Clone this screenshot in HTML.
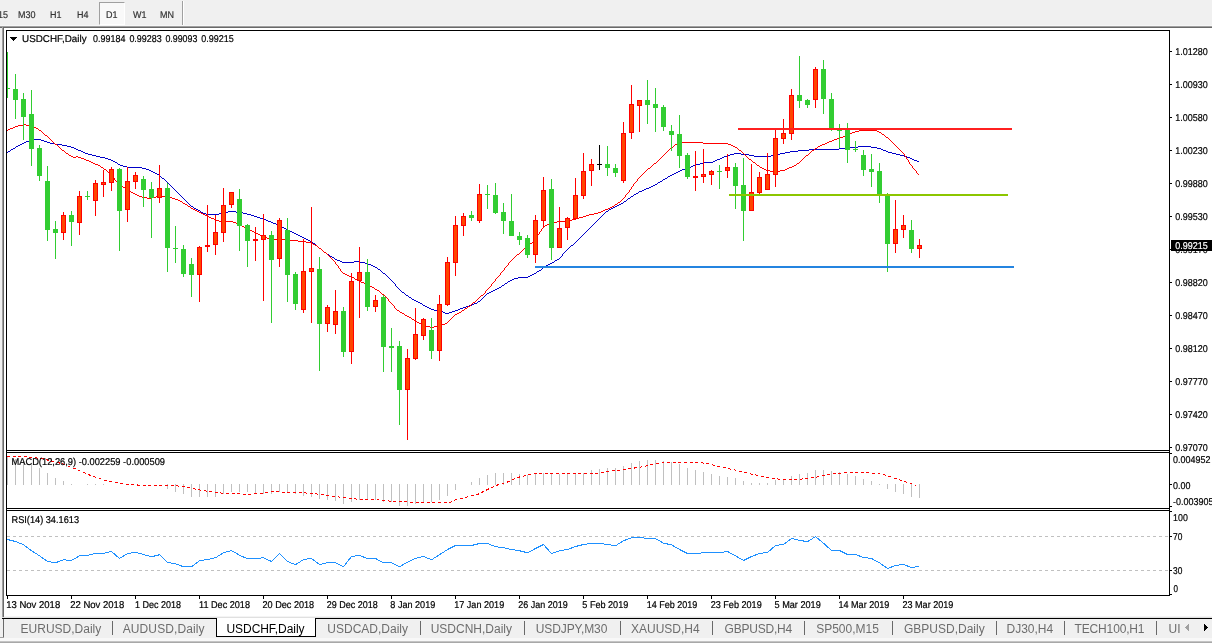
<!DOCTYPE html>
<html lang="en">
<head>
<meta charset="utf-8">
<title>USDCHF,Daily</title>
<style>
html,body{margin:0;padding:0;}
body{width:1212px;height:643px;overflow:hidden;background:#fff;position:relative;font-family:"Liberation Sans",sans-serif;}
.abs{position:absolute;}
#toolbar{left:0;top:0;width:1212px;height:25px;background:#f0f0f0;}
#toolbar span{position:absolute;top:10px;font-size:9.8px;line-height:11px;color:#333;-webkit-text-stroke:.2px #333;white-space:nowrap;transform:scaleX(.918);transform-origin:0 0;text-rendering:geometricPrecision;}
#d1btn{left:99px;top:2px;width:24px;height:21px;background:#f9f9f9;border-left:1px solid #a0a0a0;border-top:1px solid #a0a0a0;border-right:1px solid #fff;border-bottom:1px solid #fff;}
#tabs{left:0;top:619px;width:1212px;height:19px;background:#f0f0f0;}
#tabs span{position:absolute;top:3px;font-size:12px;line-height:14px;color:#6d6d6d;white-space:nowrap;}
#tabs i{position:absolute;top:2px;width:1px;height:14px;background:#696969;}
#acttab{left:216px;top:618px;width:98px;height:18px;background:#fff;border-left:1px solid #000;border-right:1px solid #000;border-bottom:1px solid #000;}
#acttab span{position:absolute;left:9.5px;letter-spacing:-.06px;top:4px;font-size:12px;line-height:14px;color:#000;white-space:nowrap;}
svg{position:absolute;left:0;top:0;}
svg text{font-family:"Liberation Sans",sans-serif;font-size:9.9px;fill:#000;stroke:#000;stroke-width:.2px;text-rendering:geometricPrecision;}
</style>
</head>
<body>

<div id="toolbar" class="abs">
<div id="d1btn" class="abs"></div>
<span style="left:-2px">15</span>
<span style="left:18.3px">M30</span>
<span style="left:49.5px">H1</span>
<span style="left:76.7px">H4</span>
<span style="left:105.5px">D1</span>
<span style="left:133.3px">W1</span>
<span style="left:159.7px">MN</span>
<div class="abs" style="left:182px;top:1px;width:1px;height:24px;background:#a0a0a0"></div>
<div class="abs" style="left:183px;top:1px;width:1px;height:24px;background:#fff"></div>
</div>
<div class="abs" style="left:0;top:25px;width:1212px;height:1px;background:#f6f6f6"></div>
<div class="abs" style="left:0;top:26px;width:1212px;height:1px;background:#a0a0a0"></div>
<div class="abs" style="left:0;top:27px;width:1212px;height:1px;background:#696969"></div>
<div class="abs" style="left:0;top:28px;width:2px;height:610px;background:#f0f0f0"></div>
<div class="abs" style="left:2px;top:27px;width:1px;height:590px;background:#a0a0a0"></div>
<div class="abs" style="left:3px;top:28px;width:1px;height:589px;background:#696969"></div>
<div class="abs" style="left:4px;top:616px;width:1208px;height:1px;background:#f4f4f4"></div>
<div class="abs" style="left:2px;top:617px;width:1210px;height:1px;background:#e0e0e0"></div>
<div class="abs" style="left:2px;top:618px;width:1210px;height:1px;background:#000"></div>
<div id="tabs" class="abs">
<div class="abs" style="left:3px;top:0;width:1px;height:18px;background:#696969"></div>
<div class="abs" style="left:0;top:18px;width:4px;height:1px;background:#a0a0a0"></div>
<span style="left:20.6px">EURUSD,Daily</span>
<span style="left:122.7px;letter-spacing:0.11px">AUDUSD,Daily</span>
<span style="left:327.3px">USDCAD,Daily</span>
<span style="left:430.7px">USDCNH,Daily</span>
<span style="left:535.7px;letter-spacing:-0.09px">USDJPY,M30</span>
<span style="left:631px">XAUUSD,H4</span>
<span style="left:724.5px;letter-spacing:-0.2px">GBPUSD,H4</span>
<span style="left:816.2px">SP500,M15</span>
<span style="left:904px">GBPUSD,Daily</span>
<span style="left:1006.5px">DJ30,H4</span>
<span style="left:1074.6px;letter-spacing:-0.16px">TECH100,H1</span>
<span style="left:1168.6px">UI</span>
<i style="left:112px"></i>
<i style="left:420px"></i>
<i style="left:524px"></i>
<i style="left:620px"></i>
<i style="left:712px"></i>
<i style="left:804px"></i>
<i style="left:892px"></i>
<i style="left:996px"></i>
<i style="left:1064px"></i>
<i style="left:1156px"></i>
<svg width="30" height="19" style="left:1182px;top:0" shape-rendering="crispEdges"><path d="M3 8h1v1h-1zM4 7h1v3h-1zM5 6h1v5h-1zM6 5h1v7h-1z" fill="#a0a0a0"/><path d="M22 5h1v7h-1zM23 6h1v5h-1zM24 7h1v3h-1zM25 8h1v1h-1z" fill="#000"/></svg>
</div>
<div id="acttab" class="abs"><span>USDCHF,Daily</span></div>
<div class="abs" style="left:0;top:638px;width:1212px;height:3px;background:#f8f8f8"></div>
<div class="abs" style="left:0;top:641px;width:1212px;height:1px;background:#c4c4c4"></div>
<div class="abs" style="left:0;top:642px;width:1212px;height:1px;background:#a8a8a8"></div>
<svg width="1212" height="643" viewBox="0 0 1212 643">
<g shape-rendering="crispEdges">
<path d="M7 536.5H1169M7 570.5H1169" stroke="#c0c0c0" stroke-width="1" stroke-dasharray="3 3" fill="none"/>
<rect x="7" y="456" width="1" height="29" fill="#c0c0c0"/>
<rect x="15" y="459" width="1" height="26" fill="#c0c0c0"/>
<rect x="23" y="461" width="1" height="24" fill="#c0c0c0"/>
<rect x="31" y="464" width="1" height="21" fill="#c0c0c0"/>
<rect x="39" y="468" width="1" height="17" fill="#c0c0c0"/>
<rect x="47" y="473" width="1" height="12" fill="#c0c0c0"/>
<rect x="55" y="478" width="1" height="7" fill="#c0c0c0"/>
<rect x="63" y="481" width="1" height="4" fill="#c0c0c0"/>
<rect x="71" y="484" width="1" height="1" fill="#c0c0c0"/>
<rect x="87" y="484" width="1" height="1" fill="#c0c0c0"/>
<rect x="95" y="484" width="1" height="1" fill="#c0c0c0"/>
<rect x="103" y="484" width="1" height="1" fill="#c0c0c0"/>
<rect x="167" y="484" width="1" height="5" fill="#c0c0c0"/>
<rect x="175" y="484" width="1" height="8" fill="#c0c0c0"/>
<rect x="183" y="484" width="1" height="10" fill="#c0c0c0"/>
<rect x="191" y="484" width="1" height="13" fill="#c0c0c0"/>
<rect x="199" y="484" width="1" height="13" fill="#c0c0c0"/>
<rect x="207" y="484" width="1" height="13" fill="#c0c0c0"/>
<rect x="215" y="484" width="1" height="13" fill="#c0c0c0"/>
<rect x="223" y="484" width="1" height="10" fill="#c0c0c0"/>
<rect x="231" y="484" width="1" height="8" fill="#c0c0c0"/>
<rect x="239" y="484" width="1" height="8" fill="#c0c0c0"/>
<rect x="247" y="484" width="1" height="8" fill="#c0c0c0"/>
<rect x="255" y="484" width="1" height="9" fill="#c0c0c0"/>
<rect x="263" y="484" width="1" height="10" fill="#c0c0c0"/>
<rect x="271" y="484" width="1" height="10" fill="#c0c0c0"/>
<rect x="279" y="484" width="1" height="8" fill="#c0c0c0"/>
<rect x="287" y="484" width="1" height="9" fill="#c0c0c0"/>
<rect x="295" y="484" width="1" height="10" fill="#c0c0c0"/>
<rect x="303" y="484" width="1" height="12" fill="#c0c0c0"/>
<rect x="311" y="484" width="1" height="13" fill="#c0c0c0"/>
<rect x="319" y="484" width="1" height="15" fill="#c0c0c0"/>
<rect x="327" y="484" width="1" height="16" fill="#c0c0c0"/>
<rect x="335" y="484" width="1" height="17" fill="#c0c0c0"/>
<rect x="343" y="484" width="1" height="20" fill="#c0c0c0"/>
<rect x="351" y="484" width="1" height="18" fill="#c0c0c0"/>
<rect x="359" y="484" width="1" height="16" fill="#c0c0c0"/>
<rect x="367" y="484" width="1" height="16" fill="#c0c0c0"/>
<rect x="375" y="484" width="1" height="16" fill="#c0c0c0"/>
<rect x="383" y="484" width="1" height="18" fill="#c0c0c0"/>
<rect x="391" y="484" width="1" height="18" fill="#c0c0c0"/>
<rect x="399" y="484" width="1" height="22" fill="#c0c0c0"/>
<rect x="407" y="484" width="1" height="22" fill="#c0c0c0"/>
<rect x="415" y="484" width="1" height="20" fill="#c0c0c0"/>
<rect x="423" y="484" width="1" height="18" fill="#c0c0c0"/>
<rect x="431" y="484" width="1" height="18" fill="#c0c0c0"/>
<rect x="439" y="484" width="1" height="16" fill="#c0c0c0"/>
<rect x="447" y="484" width="1" height="12" fill="#c0c0c0"/>
<rect x="455" y="484" width="1" height="6" fill="#c0c0c0"/>
<rect x="471" y="482" width="1" height="3" fill="#c0c0c0"/>
<rect x="479" y="478" width="1" height="7" fill="#c0c0c0"/>
<rect x="487" y="475" width="1" height="10" fill="#c0c0c0"/>
<rect x="495" y="473" width="1" height="12" fill="#c0c0c0"/>
<rect x="503" y="473" width="1" height="12" fill="#c0c0c0"/>
<rect x="511" y="473" width="1" height="12" fill="#c0c0c0"/>
<rect x="519" y="474" width="1" height="11" fill="#c0c0c0"/>
<rect x="527" y="475" width="1" height="10" fill="#c0c0c0"/>
<rect x="535" y="474" width="1" height="11" fill="#c0c0c0"/>
<rect x="543" y="473" width="1" height="12" fill="#c0c0c0"/>
<rect x="551" y="474" width="1" height="11" fill="#c0c0c0"/>
<rect x="559" y="474" width="1" height="11" fill="#c0c0c0"/>
<rect x="567" y="474" width="1" height="11" fill="#c0c0c0"/>
<rect x="575" y="474" width="1" height="11" fill="#c0c0c0"/>
<rect x="583" y="473" width="1" height="12" fill="#c0c0c0"/>
<rect x="591" y="470" width="1" height="15" fill="#c0c0c0"/>
<rect x="599" y="469" width="1" height="16" fill="#c0c0c0"/>
<rect x="607" y="468" width="1" height="17" fill="#c0c0c0"/>
<rect x="615" y="468" width="1" height="17" fill="#c0c0c0"/>
<rect x="623" y="466" width="1" height="19" fill="#c0c0c0"/>
<rect x="631" y="463" width="1" height="22" fill="#c0c0c0"/>
<rect x="639" y="461" width="1" height="24" fill="#c0c0c0"/>
<rect x="647" y="460" width="1" height="25" fill="#c0c0c0"/>
<rect x="655" y="460" width="1" height="25" fill="#c0c0c0"/>
<rect x="663" y="461" width="1" height="24" fill="#c0c0c0"/>
<rect x="671" y="462" width="1" height="23" fill="#c0c0c0"/>
<rect x="679" y="464" width="1" height="21" fill="#c0c0c0"/>
<rect x="687" y="468" width="1" height="17" fill="#c0c0c0"/>
<rect x="695" y="470" width="1" height="15" fill="#c0c0c0"/>
<rect x="703" y="472" width="1" height="13" fill="#c0c0c0"/>
<rect x="711" y="474" width="1" height="11" fill="#c0c0c0"/>
<rect x="719" y="476" width="1" height="9" fill="#c0c0c0"/>
<rect x="727" y="477" width="1" height="8" fill="#c0c0c0"/>
<rect x="735" y="478" width="1" height="7" fill="#c0c0c0"/>
<rect x="743" y="481" width="1" height="4" fill="#c0c0c0"/>
<rect x="751" y="483" width="1" height="2" fill="#c0c0c0"/>
<rect x="759" y="483" width="1" height="2" fill="#c0c0c0"/>
<rect x="767" y="483" width="1" height="2" fill="#c0c0c0"/>
<rect x="775" y="480" width="1" height="5" fill="#c0c0c0"/>
<rect x="783" y="480" width="1" height="5" fill="#c0c0c0"/>
<rect x="791" y="476" width="1" height="9" fill="#c0c0c0"/>
<rect x="799" y="474" width="1" height="11" fill="#c0c0c0"/>
<rect x="807" y="473" width="1" height="12" fill="#c0c0c0"/>
<rect x="815" y="470" width="1" height="15" fill="#c0c0c0"/>
<rect x="823" y="470" width="1" height="15" fill="#c0c0c0"/>
<rect x="831" y="471" width="1" height="14" fill="#c0c0c0"/>
<rect x="839" y="472" width="1" height="13" fill="#c0c0c0"/>
<rect x="847" y="474" width="1" height="11" fill="#c0c0c0"/>
<rect x="855" y="476" width="1" height="9" fill="#c0c0c0"/>
<rect x="863" y="479" width="1" height="6" fill="#c0c0c0"/>
<rect x="871" y="481" width="1" height="4" fill="#c0c0c0"/>
<rect x="879" y="484" width="1" height="1" fill="#c0c0c0"/>
<rect x="887" y="484" width="1" height="5" fill="#c0c0c0"/>
<rect x="895" y="484" width="1" height="8" fill="#c0c0c0"/>
<rect x="903" y="484" width="1" height="10" fill="#c0c0c0"/>
<rect x="911" y="484" width="1" height="13" fill="#c0c0c0"/>
<rect x="919" y="484" width="1" height="14" fill="#c0c0c0"/>
</g>
<polyline points="7,456.25 27.5,456.75 42.5,458.75 62.5,463.75 75,468.75 92.5,476.25 107.5,481.25 122.5,483.75 137.5,485 170,485 185,487 200,490 215,492.5 230,493.75 250,494.25 265,493 272.5,491.75 300,492.5 315,493.75 332.5,496.25 350,498.25 360,499.5 375,499.5 385,500.75 400,501.75 420,502.5 450,502.5 455,500 465,497.5 477.5,494.5 487.5,489.5 497.5,485 507.5,482 517.5,477.5 530,474.5 540,473.25 587.5,473.25 600,473 607.5,471.25 625,469.5 642.5,466.75 655,463.75 667.5,462.5 700,462.5 707.5,463.75 720,466.75 735,470 750,473.75 765,477 780,479.25 800,479.25 817.5,477 830,474.25 847.5,472.5 865,472.5 877.5,473.5 885,475 897.5,479.25 907.5,482.5 916,485.5" fill="none" stroke="#ff0000" stroke-width="1" stroke-dasharray="3 2.6" shape-rendering="crispEdges"/>
<polyline points="7.5,539.5 15.5,541.5 23.5,544.75 31.5,550.75 39.5,555.75 47.5,561.5 55.5,562.75 63.5,559.75 71.5,560.5 79.5,555.75 87.5,555.25 95.5,553.5 103.5,553.25 111.5,551.5 119.5,558.5 127.5,553.5 135.5,552.25 143.5,554.5 151.5,556.75 159.5,554.75 167.5,562.5 175.5,563.75 183.5,566.75 191.5,566.75 199.5,560.75 207.5,559.5 215.5,557.75 223.5,552.75 231.5,550.5 239.5,555.25 247.5,558.75 255.5,558.75 263.5,557.75 271.5,561.5 279.5,553.25 287.5,561.5 295.5,564.75 303.5,559.5 311.5,558.5 319.5,564.5 327.5,562.75 335.5,562.75 343.5,566.75 351.5,556.5 359.5,555.5 367.5,558.5 375.5,558.5 383.5,562.75 391.5,562.75 399.5,566.75 407.5,562.25 415.5,558.25 423.5,556.5 431.5,559.75 439.5,554.75 447.5,549.5 455.5,545.5 463.5,545.5 471.5,545.5 479.5,543.5 487.5,543.5 495.5,546.75 503.5,547.75 511.5,549.5 519.5,550.75 527.5,552.75 535.5,548.5 543.5,544.5 551.5,553.5 559.5,550.75 567.5,549.5 575.5,546.5 583.5,544.5 591.5,543.5 599.5,543.5 607.5,544.5 615.5,545.75 623.5,540.75 631.5,537.75 639.5,537.25 647.5,538.5 655.5,538.5 663.5,543.25 671.5,544.75 679.5,549.5 687.5,553.5 695.5,553.5 703.5,552.75 711.5,552.75 719.5,552.75 727.5,551.5 735.5,555.75 743.5,560.5 751.5,556.5 759.5,553.5 767.5,552.5 775.5,545.5 783.5,544.5 791.5,538.5 799.5,540.25 807.5,541.75 815.5,536.5 823.5,543.25 831.5,550.5 839.5,550.5 847.5,554.5 855.5,554.5 863.5,557.5 871.5,558.5 879.5,562.75 887.5,568.5 895.5,565.5 903.5,564.5 911.5,567.5 919.5,566.5" fill="none" stroke="#1e90ff" stroke-width="1" shape-rendering="crispEdges"/>
<path d="M32 139.5h9M29 140.5h3M41 140.5h3M26 141.5h3M44 141.5h3M24 142.5h2M47 142.5h3M22 143.5h2M50 143.5h5M20 144.5h2M55 144.5h7M18 145.5h2M62 145.5h5M16 146.5h2M67 146.5h4M858 146.5h13M15 147.5h1M71 147.5h3M850 147.5h8M871 147.5h6M13 148.5h2M74 148.5h2M839 148.5h11M877 148.5h4M11 149.5h2M76 149.5h2M809 149.5h30M881 149.5h2M10 150.5h1M78 150.5h3M798 150.5h11M883 150.5h3M8 151.5h2M81 151.5h2M790 151.5h8M886 151.5h2M7 152.5h1M83 152.5h2M785 152.5h5M888 152.5h4M85 153.5h3M734 153.5h7M780 153.5h5M892 153.5h4M88 154.5h4M730 154.5h4M741 154.5h8M776 154.5h4M896 154.5h4M92 155.5h4M727 155.5h3M749 155.5h5M771 155.5h5M900 155.5h4M96 156.5h4M724 156.5h3M754 156.5h17M904 156.5h3M100 157.5h5M722 157.5h2M907 157.5h3M105 158.5h3M720 158.5h2M910 158.5h2M108 159.5h3M717 159.5h3M912 159.5h2M111 160.5h2M715 160.5h2M914 160.5h3M113 161.5h2M713 161.5h2M917 161.5h2M115 162.5h2M703 162.5h10M117 163.5h1M700 163.5h3M118 164.5h2M696 164.5h4M120 165.5h3M693 165.5h3M123 166.5h4M691 166.5h2M127 167.5h15M688 167.5h3M142 168.5h4M685 168.5h3M146 169.5h3M682 169.5h3M149 170.5h2M680 170.5h2M151 171.5h2M678 171.5h2M153 172.5h2M676 172.5h2M155 173.5h2M674 173.5h2M157 174.5h2M672 174.5h2M159 175.5h1M670 175.5h2M160 176.5h1M668 176.5h2M161 177.5h1M667 177.5h1M162 178.5h2M665 178.5h2M164 179.5h1M663 179.5h2M165 180.5h1M662 180.5h1M166 181.5h1M660 181.5h2M167 182.5h1M658 182.5h2M168 183.5h1M657 183.5h1M169 184.5h1M655 184.5h2M170 185.5h1M653 185.5h2M171 186.5h1M651 186.5h2M172 187.5h1M649 187.5h2M173 188.5h1M646 188.5h3M174 189.5h1M644 189.5h2M175 190.5h1M642 190.5h2M176 191.5h1M639 191.5h3M177 192.5h1M638 192.5h1M178 193.5h1M636 193.5h2M179 194.5h1M634 194.5h2M180 195.5h1M633 195.5h1M181 196.5h1M631 196.5h2M182 197.5h1M630 197.5h1M183 198.5h1M628 198.5h2M184 199.5h1M627 199.5h1M185 200.5h1M626 200.5h1M186 201.5h1M624 201.5h2M187 202.5h1M623 202.5h1M188 203.5h1M621 203.5h2M189 204.5h1M619 204.5h2M190 205.5h1M617 205.5h2M191 206.5h2M615 206.5h2M193 207.5h1M613 207.5h2M194 208.5h2M611 208.5h2M196 209.5h2M609 209.5h2M198 210.5h2M608 210.5h1M200 211.5h1M228 211.5h8M606 211.5h2M201 212.5h2M223 212.5h5M236 212.5h7M605 212.5h1M203 213.5h3M219 213.5h4M243 213.5h4M604 213.5h1M206 214.5h13M247 214.5h4M603 214.5h1M251 215.5h3M602 215.5h1M254 216.5h3M601 216.5h1M257 217.5h3M600 217.5h1M260 218.5h3M599 218.5h1M263 219.5h3M598 219.5h1M266 220.5h2M597 220.5h1M268 221.5h3M596 221.5h1M271 222.5h2M595 222.5h1M273 223.5h3M594 223.5h1M276 224.5h2M593 224.5h1M278 225.5h2M592 225.5h1M280 226.5h2M591 226.5h1M282 227.5h2M590 227.5h1M284 228.5h2M589 228.5h1M286 229.5h2M588 229.5h1M288 230.5h2M587 230.5h1M290 231.5h2M586 231.5h1M292 232.5h2M585 232.5h1M294 233.5h2M584 233.5h1M296 234.5h2M583 234.5h1M298 235.5h2M582 235.5h1M300 236.5h2M581 236.5h1M302 237.5h2M580 237.5h1M304 238.5h2M579 238.5h1M306 239.5h2M578 239.5h1M308 240.5h2M577 240.5h1M310 241.5h2M576 241.5h1M312 242.5h1M575 242.5h1M313 243.5h2M574 243.5h1M315 244.5h1M573 244.5h1M316 245.5h1M571 245.5h2M317 246.5h1M570 246.5h1M318 247.5h1M569 247.5h1M319 248.5h2M568 248.5h1M321 249.5h1M567 249.5h1M322 250.5h1M566 250.5h1M323 251.5h1M565 251.5h1M324 252.5h2M564 252.5h1M326 253.5h1M563 253.5h1M327 254.5h2M562 254.5h1M329 255.5h1M562 255.5h1M330 256.5h2M561 256.5h1M332 257.5h2M560 257.5h1M334 258.5h1M559 258.5h1M335 259.5h2M557 259.5h2M337 260.5h3M555 260.5h2M340 261.5h2M354 261.5h6M554 261.5h1M342 262.5h12M360 262.5h5M552 262.5h2M365 263.5h3M550 263.5h2M368 264.5h3M548 264.5h2M371 265.5h2M546 265.5h2M373 266.5h2M545 266.5h1M375 267.5h2M543 267.5h2M377 268.5h1M542 268.5h1M378 269.5h2M541 269.5h1M380 270.5h1M539 270.5h2M381 271.5h1M537 271.5h2M382 272.5h1M536 272.5h1M383 273.5h2M534 273.5h2M385 274.5h1M532 274.5h2M386 275.5h1M530 275.5h2M387 276.5h1M528 276.5h2M388 277.5h1M518 277.5h10M389 278.5h1M514 278.5h4M390 279.5h1M512 279.5h2M391 280.5h1M510 280.5h2M392 281.5h1M508 281.5h2M393 282.5h1M507 282.5h1M394 283.5h1M505 283.5h2M395 284.5h1M504 284.5h1M395 285.5h1M502 285.5h2M396 286.5h1M501 286.5h1M397 287.5h1M499 287.5h2M398 288.5h1M497 288.5h2M399 289.5h1M495 289.5h2M400 290.5h1M493 290.5h2M401 291.5h1M491 291.5h2M402 292.5h2M489 292.5h2M404 293.5h1M487 293.5h2M405 294.5h1M486 294.5h1M406 295.5h2M485 295.5h1M408 296.5h1M484 296.5h1M409 297.5h2M483 297.5h1M411 298.5h1M482 298.5h1M412 299.5h2M481 299.5h1M414 300.5h2M480 300.5h1M416 301.5h2M478 301.5h2M418 302.5h2M477 302.5h1M420 303.5h2M474 303.5h3M422 304.5h1M472 304.5h2M423 305.5h2M469 305.5h3M425 306.5h2M466 306.5h3M427 307.5h2M463 307.5h3M429 308.5h2M460 308.5h3M431 309.5h3M458 309.5h2M434 310.5h7M455 310.5h3M441 311.5h2M452 311.5h3M443 312.5h2M449 312.5h3M445 313.5h4" fill="none" stroke="#0000c8" stroke-width="1" shape-rendering="crispEdges"/>
<path d="M23 124.5h3M18 125.5h5M26 125.5h5M15 126.5h3M31 126.5h3M13 127.5h2M34 127.5h2M10 128.5h3M36 128.5h2M8 129.5h2M38 129.5h1M7 130.5h1M39 130.5h2M859 130.5h18M41 131.5h1M855 131.5h4M877 131.5h2M42 132.5h1M852 132.5h3M879 132.5h2M43 133.5h1M850 133.5h2M881 133.5h1M44 134.5h1M847 134.5h3M882 134.5h2M45 135.5h2M845 135.5h2M884 135.5h1M47 136.5h1M843 136.5h2M885 136.5h1M48 137.5h1M840 137.5h3M886 137.5h2M49 138.5h1M837 138.5h3M888 138.5h1M50 139.5h1M834 139.5h3M889 139.5h1M51 140.5h1M832 140.5h2M890 140.5h1M52 141.5h1M829 141.5h3M891 141.5h1M53 142.5h1M679 142.5h24M827 142.5h2M892 142.5h1M54 143.5h1M677 143.5h2M703 143.5h25M825 143.5h2M893 143.5h1M55 144.5h2M675 144.5h2M728 144.5h3M822 144.5h3M894 144.5h1M57 145.5h1M674 145.5h1M731 145.5h2M820 145.5h2M895 145.5h1M58 146.5h1M673 146.5h1M733 146.5h2M818 146.5h2M896 146.5h1M59 147.5h1M671 147.5h2M735 147.5h2M817 147.5h1M897 147.5h1M60 148.5h1M670 148.5h1M737 148.5h1M815 148.5h2M898 148.5h1M61 149.5h1M669 149.5h1M738 149.5h1M814 149.5h1M899 149.5h1M62 150.5h2M668 150.5h1M739 150.5h2M812 150.5h2M900 150.5h1M64 151.5h1M667 151.5h1M741 151.5h1M811 151.5h1M901 151.5h1M65 152.5h1M666 152.5h1M742 152.5h1M810 152.5h1M902 152.5h1M66 153.5h2M665 153.5h1M743 153.5h1M809 153.5h1M903 153.5h1M68 154.5h1M664 154.5h1M744 154.5h1M808 154.5h1M904 154.5h1M69 155.5h2M663 155.5h1M745 155.5h1M806 155.5h2M904 155.5h1M71 156.5h2M76 156.5h2M662 156.5h1M746 156.5h1M805 156.5h1M905 156.5h1M73 157.5h3M78 157.5h3M661 157.5h1M747 157.5h1M804 157.5h1M906 157.5h1M81 158.5h3M660 158.5h1M748 158.5h1M803 158.5h1M906 158.5h1M84 159.5h2M659 159.5h1M749 159.5h2M802 159.5h1M907 159.5h1M86 160.5h3M658 160.5h1M751 160.5h1M801 160.5h1M908 160.5h1M89 161.5h2M657 161.5h1M752 161.5h1M800 161.5h1M908 161.5h1M91 162.5h2M656 162.5h1M753 162.5h2M799 162.5h1M909 162.5h1M93 163.5h2M654 163.5h2M755 163.5h1M797 163.5h2M909 163.5h1M95 164.5h3M653 164.5h1M756 164.5h1M796 164.5h1M910 164.5h1M98 165.5h2M652 165.5h1M757 165.5h2M794 165.5h2M911 165.5h1M100 166.5h1M651 166.5h1M759 166.5h1M792 166.5h2M912 166.5h1M101 167.5h2M650 167.5h1M760 167.5h2M789 167.5h3M912 167.5h1M103 168.5h1M648 168.5h2M762 168.5h2M787 168.5h2M913 168.5h1M104 169.5h2M647 169.5h1M764 169.5h2M785 169.5h2M914 169.5h1M106 170.5h1M646 170.5h1M766 170.5h4M780 170.5h5M915 170.5h1M107 171.5h1M645 171.5h1M770 171.5h10M916 171.5h1M108 172.5h1M644 172.5h1M916 172.5h1M109 173.5h1M643 173.5h1M917 173.5h1M110 174.5h1M642 174.5h1M918 174.5h1M111 175.5h1M641 175.5h1M112 176.5h1M640 176.5h1M113 177.5h1M639 177.5h1M114 178.5h1M638 178.5h1M114 179.5h1M637 179.5h1M115 180.5h1M637 180.5h1M116 181.5h1M636 181.5h1M117 182.5h1M635 182.5h1M118 183.5h1M634 183.5h1M119 184.5h2M633 184.5h1M121 185.5h1M633 185.5h1M122 186.5h1M632 186.5h1M123 187.5h2M631 187.5h1M125 188.5h1M631 188.5h1M126 189.5h2M630 189.5h1M128 190.5h2M629 190.5h1M130 191.5h1M629 191.5h1M131 192.5h2M628 192.5h1M133 193.5h2M627 193.5h1M135 194.5h2M626 194.5h1M137 195.5h2M625 195.5h1M139 196.5h3M156 196.5h12M625 196.5h1M142 197.5h5M152 197.5h4M168 197.5h4M624 197.5h1M147 198.5h5M172 198.5h3M623 198.5h1M175 199.5h3M622 199.5h1M178 200.5h2M621 200.5h1M180 201.5h2M620 201.5h1M182 202.5h1M618 202.5h2M183 203.5h2M617 203.5h1M185 204.5h2M615 204.5h2M187 205.5h1M614 205.5h1M188 206.5h2M612 206.5h2M190 207.5h1M610 207.5h2M191 208.5h2M608 208.5h2M193 209.5h2M605 209.5h3M195 210.5h2M603 210.5h2M197 211.5h2M601 211.5h2M199 212.5h2M598 212.5h3M201 213.5h2M594 213.5h4M203 214.5h2M589 214.5h5M205 215.5h2M586 215.5h3M207 216.5h2M583 216.5h3M209 217.5h2M579 217.5h4M211 218.5h3M576 218.5h3M214 219.5h2M572 219.5h4M216 220.5h3M567 220.5h5M219 221.5h14M557 221.5h10M233 222.5h3M552 222.5h5M236 223.5h2M549 223.5h3M238 224.5h2M547 224.5h2M240 225.5h2M545 225.5h2M242 226.5h2M544 226.5h1M244 227.5h2M543 227.5h1M246 228.5h2M542 228.5h1M248 229.5h2M541 229.5h1M250 230.5h2M541 230.5h1M252 231.5h2M540 231.5h1M254 232.5h2M539 232.5h1M256 233.5h2M539 233.5h1M258 234.5h2M538 234.5h1M260 235.5h2M537 235.5h1M262 236.5h3M537 236.5h1M265 237.5h2M536 237.5h1M267 238.5h4M535 238.5h1M271 239.5h19M534 239.5h1M290 240.5h8M533 240.5h1M298 241.5h8M533 241.5h1M306 242.5h5M532 242.5h1M311 243.5h2M530 243.5h2M313 244.5h2M529 244.5h1M315 245.5h2M528 245.5h1M317 246.5h1M527 246.5h1M318 247.5h1M526 247.5h1M319 248.5h2M524 248.5h2M321 249.5h1M523 249.5h1M322 250.5h1M522 250.5h1M323 251.5h1M521 251.5h1M324 252.5h2M520 252.5h1M326 253.5h1M519 253.5h1M327 254.5h1M517 254.5h2M328 255.5h1M516 255.5h1M329 256.5h1M515 256.5h1M330 257.5h1M514 257.5h1M331 258.5h1M513 258.5h1M332 259.5h1M512 259.5h1M333 260.5h1M511 260.5h1M334 261.5h1M510 261.5h1M335 262.5h1M509 262.5h1M335 263.5h1M508 263.5h1M336 264.5h1M508 264.5h1M337 265.5h1M507 265.5h1M338 266.5h1M506 266.5h1M338 267.5h1M505 267.5h1M339 268.5h1M504 268.5h1M340 269.5h1M504 269.5h1M340 270.5h1M503 270.5h1M341 271.5h1M502 271.5h1M342 272.5h1M501 272.5h1M343 273.5h2M500 273.5h1M345 274.5h2M500 274.5h1M347 275.5h2M499 275.5h1M349 276.5h2M498 276.5h1M351 277.5h3M497 277.5h1M354 278.5h1M496 278.5h1M355 279.5h2M495 279.5h1M357 280.5h2M495 280.5h1M359 281.5h2M494 281.5h1M361 282.5h3M493 282.5h1M364 283.5h2M492 283.5h1M366 284.5h2M491 284.5h1M368 285.5h2M491 285.5h1M370 286.5h2M490 286.5h1M372 287.5h2M489 287.5h1M374 288.5h1M488 288.5h1M375 289.5h2M487 289.5h1M377 290.5h2M486 290.5h1M379 291.5h1M485 291.5h1M380 292.5h1M485 292.5h1M381 293.5h1M484 293.5h1M382 294.5h2M483 294.5h1M384 295.5h1M481 295.5h2M385 296.5h1M480 296.5h1M386 297.5h1M479 297.5h1M387 298.5h1M478 298.5h1M388 299.5h1M477 299.5h1M388 300.5h1M476 300.5h1M389 301.5h1M475 301.5h1M390 302.5h1M473 302.5h2M391 303.5h1M472 303.5h1M392 304.5h1M471 304.5h1M393 305.5h1M470 305.5h1M394 306.5h1M468 306.5h2M394 307.5h1M467 307.5h1M395 308.5h1M465 308.5h2M396 309.5h1M464 309.5h1M397 310.5h2M462 310.5h2M399 311.5h1M461 311.5h1M400 312.5h2M459 312.5h2M402 313.5h2M457 313.5h2M404 314.5h1M455 314.5h2M405 315.5h2M454 315.5h1M407 316.5h2M453 316.5h1M409 317.5h2M452 317.5h1M411 318.5h1M451 318.5h1M412 319.5h2M450 319.5h1M414 320.5h1M449 320.5h1M415 321.5h2M448 321.5h1M417 322.5h2M447 322.5h1M419 323.5h2M445 323.5h2M421 324.5h2M442 324.5h3M423 325.5h3M438 325.5h4M426 326.5h4M434 326.5h4M430 327.5h4" fill="none" stroke="#ff0000" stroke-width="1" shape-rendering="crispEdges"/>
<g shape-rendering="crispEdges">
<rect x="7" y="52" width="1" height="46" fill="#32cd32"/>
<rect x="7" y="88" width="3" height="1" fill="#32cd32"/>
<rect x="15" y="74" width="1" height="45" fill="#32cd32"/>
<rect x="13" y="89" width="5" height="11" fill="#32cd32"/>
<rect x="23" y="93" width="1" height="47" fill="#32cd32"/>
<rect x="21" y="99" width="5" height="18" fill="#32cd32"/>
<rect x="31" y="90" width="1" height="76" fill="#32cd32"/>
<rect x="29" y="114" width="5" height="35" fill="#32cd32"/>
<rect x="39" y="145" width="1" height="36" fill="#32cd32"/>
<rect x="37" y="148" width="5" height="28" fill="#32cd32"/>
<rect x="47" y="166" width="1" height="75" fill="#32cd32"/>
<rect x="45" y="181" width="5" height="49" fill="#32cd32"/>
<rect x="55" y="221" width="1" height="38" fill="#32cd32"/>
<rect x="53" y="229" width="5" height="4" fill="#32cd32"/>
<rect x="63" y="212" width="1" height="28" fill="#ff0000"/>
<rect x="61" y="215" width="5" height="18" fill="#ff0000"/>
<rect x="62" y="216" width="3" height="16" fill="#ff4500"/>
<rect x="71" y="211" width="1" height="35" fill="#32cd32"/>
<rect x="69" y="215" width="5" height="7" fill="#32cd32"/>
<rect x="79" y="191" width="1" height="44" fill="#ff0000"/>
<rect x="77" y="196" width="5" height="27" fill="#ff0000"/>
<rect x="78" y="197" width="3" height="25" fill="#ff4500"/>
<rect x="87" y="191" width="1" height="9" fill="#32cd32"/>
<rect x="85" y="196" width="5" height="1" fill="#32cd32"/>
<rect x="95" y="180" width="1" height="36" fill="#ff0000"/>
<rect x="93" y="183" width="5" height="18" fill="#ff0000"/>
<rect x="94" y="184" width="3" height="16" fill="#ff4500"/>
<rect x="103" y="170" width="1" height="27" fill="#ff0000"/>
<rect x="101" y="182" width="5" height="3" fill="#ff0000"/>
<rect x="102" y="183" width="3" height="1" fill="#ff4500"/>
<rect x="111" y="167" width="1" height="24" fill="#ff0000"/>
<rect x="109" y="169" width="5" height="14" fill="#ff0000"/>
<rect x="110" y="170" width="3" height="12" fill="#ff4500"/>
<rect x="119" y="168" width="1" height="83" fill="#32cd32"/>
<rect x="117" y="169" width="5" height="42" fill="#32cd32"/>
<rect x="127" y="167" width="1" height="55" fill="#ff0000"/>
<rect x="125" y="181" width="5" height="29" fill="#ff0000"/>
<rect x="126" y="182" width="3" height="27" fill="#ff4500"/>
<rect x="135" y="172" width="1" height="17" fill="#ff0000"/>
<rect x="133" y="175" width="5" height="7" fill="#ff0000"/>
<rect x="134" y="176" width="3" height="5" fill="#ff4500"/>
<rect x="143" y="176" width="1" height="31" fill="#32cd32"/>
<rect x="141" y="179" width="5" height="11" fill="#32cd32"/>
<rect x="151" y="182" width="1" height="56" fill="#32cd32"/>
<rect x="149" y="189" width="5" height="9" fill="#32cd32"/>
<rect x="159" y="165" width="1" height="38" fill="#ff0000"/>
<rect x="157" y="188" width="5" height="10" fill="#ff0000"/>
<rect x="158" y="189" width="3" height="8" fill="#ff4500"/>
<rect x="167" y="183" width="1" height="89" fill="#32cd32"/>
<rect x="165" y="188" width="5" height="60" fill="#32cd32"/>
<rect x="175" y="226" width="1" height="37" fill="#32cd32"/>
<rect x="173" y="248" width="5" height="1" fill="#32cd32"/>
<rect x="183" y="245" width="1" height="32" fill="#32cd32"/>
<rect x="181" y="249" width="5" height="25" fill="#32cd32"/>
<rect x="191" y="258" width="1" height="39" fill="#32cd32"/>
<rect x="189" y="264" width="5" height="11" fill="#32cd32"/>
<rect x="199" y="246" width="1" height="56" fill="#ff0000"/>
<rect x="197" y="247" width="5" height="28" fill="#ff0000"/>
<rect x="198" y="248" width="3" height="26" fill="#ff4500"/>
<rect x="207" y="205" width="1" height="47" fill="#ff0000"/>
<rect x="205" y="245" width="5" height="2" fill="#ff0000"/>
<rect x="215" y="215" width="1" height="40" fill="#ff0000"/>
<rect x="213" y="232" width="5" height="13" fill="#ff0000"/>
<rect x="214" y="233" width="3" height="11" fill="#ff4500"/>
<rect x="223" y="188" width="1" height="54" fill="#ff0000"/>
<rect x="221" y="205" width="5" height="28" fill="#ff0000"/>
<rect x="222" y="206" width="3" height="26" fill="#ff4500"/>
<rect x="231" y="192" width="1" height="16" fill="#ff0000"/>
<rect x="229" y="192" width="5" height="13" fill="#ff0000"/>
<rect x="230" y="193" width="3" height="11" fill="#ff4500"/>
<rect x="239" y="189" width="1" height="62" fill="#32cd32"/>
<rect x="237" y="199" width="5" height="27" fill="#32cd32"/>
<rect x="247" y="224" width="1" height="43" fill="#32cd32"/>
<rect x="245" y="225" width="5" height="16" fill="#32cd32"/>
<rect x="255" y="227" width="1" height="34" fill="#ff0000"/>
<rect x="253" y="239" width="5" height="2" fill="#ff0000"/>
<rect x="263" y="214" width="1" height="87" fill="#ff0000"/>
<rect x="261" y="235" width="5" height="5" fill="#ff0000"/>
<rect x="262" y="236" width="3" height="3" fill="#ff4500"/>
<rect x="271" y="231" width="1" height="92" fill="#32cd32"/>
<rect x="269" y="235" width="5" height="25" fill="#32cd32"/>
<rect x="279" y="218" width="1" height="49" fill="#ff0000"/>
<rect x="277" y="220" width="5" height="39" fill="#ff0000"/>
<rect x="278" y="221" width="3" height="37" fill="#ff4500"/>
<rect x="287" y="218" width="1" height="84" fill="#32cd32"/>
<rect x="285" y="230" width="5" height="45" fill="#32cd32"/>
<rect x="295" y="272" width="1" height="38" fill="#32cd32"/>
<rect x="293" y="274" width="5" height="30" fill="#32cd32"/>
<rect x="303" y="239" width="1" height="74" fill="#ff0000"/>
<rect x="301" y="271" width="5" height="39" fill="#ff0000"/>
<rect x="302" y="272" width="3" height="37" fill="#ff4500"/>
<rect x="311" y="207" width="1" height="116" fill="#ff0000"/>
<rect x="309" y="268" width="5" height="4" fill="#ff0000"/>
<rect x="310" y="269" width="3" height="2" fill="#ff4500"/>
<rect x="319" y="257" width="1" height="114" fill="#32cd32"/>
<rect x="317" y="269" width="5" height="55" fill="#32cd32"/>
<rect x="327" y="305" width="1" height="27" fill="#ff0000"/>
<rect x="325" y="307" width="5" height="17" fill="#ff0000"/>
<rect x="326" y="308" width="3" height="15" fill="#ff4500"/>
<rect x="335" y="290" width="1" height="44" fill="#ff0000"/>
<rect x="333" y="311" width="5" height="14" fill="#ff0000"/>
<rect x="334" y="312" width="3" height="12" fill="#ff4500"/>
<rect x="343" y="307" width="1" height="50" fill="#32cd32"/>
<rect x="341" y="311" width="5" height="41" fill="#32cd32"/>
<rect x="351" y="273" width="1" height="91" fill="#ff0000"/>
<rect x="349" y="281" width="5" height="71" fill="#ff0000"/>
<rect x="350" y="282" width="3" height="69" fill="#ff4500"/>
<rect x="359" y="247" width="1" height="71" fill="#ff0000"/>
<rect x="357" y="272" width="5" height="9" fill="#ff0000"/>
<rect x="358" y="273" width="3" height="7" fill="#ff4500"/>
<rect x="367" y="259" width="1" height="52" fill="#32cd32"/>
<rect x="365" y="272" width="5" height="35" fill="#32cd32"/>
<rect x="375" y="295" width="1" height="17" fill="#ff0000"/>
<rect x="373" y="300" width="5" height="7" fill="#ff0000"/>
<rect x="374" y="301" width="3" height="5" fill="#ff4500"/>
<rect x="383" y="295" width="1" height="77" fill="#32cd32"/>
<rect x="381" y="297" width="5" height="50" fill="#32cd32"/>
<rect x="391" y="328" width="1" height="44" fill="#32cd32"/>
<rect x="389" y="346" width="5" height="2" fill="#32cd32"/>
<rect x="399" y="341" width="1" height="84" fill="#32cd32"/>
<rect x="397" y="346" width="5" height="44" fill="#32cd32"/>
<rect x="407" y="349" width="1" height="91" fill="#ff0000"/>
<rect x="405" y="358" width="5" height="32" fill="#ff0000"/>
<rect x="406" y="359" width="3" height="30" fill="#ff4500"/>
<rect x="415" y="308" width="1" height="52" fill="#ff0000"/>
<rect x="413" y="334" width="5" height="25" fill="#ff0000"/>
<rect x="414" y="335" width="3" height="23" fill="#ff4500"/>
<rect x="423" y="318" width="1" height="22" fill="#ff0000"/>
<rect x="421" y="319" width="5" height="17" fill="#ff0000"/>
<rect x="422" y="320" width="3" height="15" fill="#ff4500"/>
<rect x="431" y="318" width="1" height="41" fill="#32cd32"/>
<rect x="429" y="330" width="5" height="21" fill="#32cd32"/>
<rect x="439" y="295" width="1" height="66" fill="#ff0000"/>
<rect x="437" y="304" width="5" height="47" fill="#ff0000"/>
<rect x="438" y="305" width="3" height="45" fill="#ff4500"/>
<rect x="447" y="257" width="1" height="49" fill="#ff0000"/>
<rect x="445" y="262" width="5" height="43" fill="#ff0000"/>
<rect x="446" y="263" width="3" height="41" fill="#ff4500"/>
<rect x="455" y="216" width="1" height="60" fill="#ff0000"/>
<rect x="453" y="225" width="5" height="38" fill="#ff0000"/>
<rect x="454" y="226" width="3" height="36" fill="#ff4500"/>
<rect x="463" y="213" width="1" height="23" fill="#ff0000"/>
<rect x="461" y="216" width="5" height="10" fill="#ff0000"/>
<rect x="462" y="217" width="3" height="8" fill="#ff4500"/>
<rect x="471" y="211" width="1" height="10" fill="#32cd32"/>
<rect x="469" y="215" width="5" height="3" fill="#32cd32"/>
<rect x="479" y="184" width="1" height="39" fill="#ff0000"/>
<rect x="477" y="194" width="5" height="27" fill="#ff0000"/>
<rect x="478" y="195" width="3" height="25" fill="#ff4500"/>
<rect x="487" y="185" width="1" height="24" fill="#32cd32"/>
<rect x="485" y="194" width="5" height="1" fill="#32cd32"/>
<rect x="495" y="183" width="1" height="31" fill="#32cd32"/>
<rect x="493" y="195" width="5" height="18" fill="#32cd32"/>
<rect x="503" y="203" width="1" height="31" fill="#32cd32"/>
<rect x="501" y="212" width="5" height="9" fill="#32cd32"/>
<rect x="511" y="194" width="1" height="42" fill="#32cd32"/>
<rect x="509" y="221" width="5" height="15" fill="#32cd32"/>
<rect x="519" y="232" width="1" height="13" fill="#32cd32"/>
<rect x="517" y="236" width="5" height="4" fill="#32cd32"/>
<rect x="527" y="235" width="1" height="23" fill="#32cd32"/>
<rect x="525" y="238" width="5" height="17" fill="#32cd32"/>
<rect x="535" y="215" width="1" height="48" fill="#ff0000"/>
<rect x="533" y="220" width="5" height="35" fill="#ff0000"/>
<rect x="534" y="221" width="3" height="33" fill="#ff4500"/>
<rect x="543" y="177" width="1" height="50" fill="#ff0000"/>
<rect x="541" y="190" width="5" height="31" fill="#ff0000"/>
<rect x="542" y="191" width="3" height="29" fill="#ff4500"/>
<rect x="551" y="179" width="1" height="81" fill="#32cd32"/>
<rect x="549" y="189" width="5" height="59" fill="#32cd32"/>
<rect x="559" y="207" width="1" height="41" fill="#ff0000"/>
<rect x="557" y="228" width="5" height="20" fill="#ff0000"/>
<rect x="558" y="229" width="3" height="18" fill="#ff4500"/>
<rect x="567" y="217" width="1" height="23" fill="#ff0000"/>
<rect x="565" y="218" width="5" height="10" fill="#ff0000"/>
<rect x="566" y="219" width="3" height="8" fill="#ff4500"/>
<rect x="575" y="178" width="1" height="41" fill="#ff0000"/>
<rect x="573" y="195" width="5" height="24" fill="#ff0000"/>
<rect x="574" y="196" width="3" height="22" fill="#ff4500"/>
<rect x="583" y="153" width="1" height="46" fill="#ff0000"/>
<rect x="581" y="171" width="5" height="25" fill="#ff0000"/>
<rect x="582" y="172" width="3" height="23" fill="#ff4500"/>
<rect x="591" y="159" width="1" height="27" fill="#ff0000"/>
<rect x="589" y="164" width="5" height="7" fill="#ff0000"/>
<rect x="590" y="165" width="3" height="5" fill="#ff4500"/>
<rect x="599" y="145" width="1" height="25" fill="#000"/>
<rect x="597" y="164" width="5" height="1" fill="#000"/>
<rect x="607" y="146" width="1" height="30" fill="#32cd32"/>
<rect x="605" y="164" width="5" height="4" fill="#32cd32"/>
<rect x="615" y="164" width="1" height="13" fill="#32cd32"/>
<rect x="613" y="168" width="5" height="5" fill="#32cd32"/>
<rect x="623" y="122" width="1" height="61" fill="#ff0000"/>
<rect x="621" y="133" width="5" height="48" fill="#ff0000"/>
<rect x="622" y="134" width="3" height="46" fill="#ff4500"/>
<rect x="631" y="85" width="1" height="54" fill="#ff0000"/>
<rect x="629" y="104" width="5" height="29" fill="#ff0000"/>
<rect x="630" y="105" width="3" height="27" fill="#ff4500"/>
<rect x="639" y="100" width="1" height="32" fill="#ff0000"/>
<rect x="637" y="100" width="5" height="6" fill="#ff0000"/>
<rect x="638" y="101" width="3" height="4" fill="#ff4500"/>
<rect x="647" y="80" width="1" height="44" fill="#32cd32"/>
<rect x="645" y="100" width="5" height="5" fill="#32cd32"/>
<rect x="655" y="88" width="1" height="44" fill="#32cd32"/>
<rect x="653" y="104" width="5" height="4" fill="#32cd32"/>
<rect x="663" y="105" width="1" height="26" fill="#32cd32"/>
<rect x="661" y="107" width="5" height="20" fill="#32cd32"/>
<rect x="671" y="125" width="1" height="26" fill="#32cd32"/>
<rect x="669" y="131" width="5" height="4" fill="#32cd32"/>
<rect x="679" y="115" width="1" height="53" fill="#32cd32"/>
<rect x="677" y="134" width="5" height="22" fill="#32cd32"/>
<rect x="687" y="153" width="1" height="26" fill="#32cd32"/>
<rect x="685" y="155" width="5" height="22" fill="#32cd32"/>
<rect x="695" y="151" width="1" height="40" fill="#ff0000"/>
<rect x="693" y="176" width="5" height="2" fill="#ff0000"/>
<rect x="703" y="149" width="1" height="34" fill="#ff0000"/>
<rect x="701" y="174" width="5" height="3" fill="#ff0000"/>
<rect x="702" y="175" width="3" height="1" fill="#ff4500"/>
<rect x="711" y="170" width="1" height="15" fill="#ff0000"/>
<rect x="709" y="171" width="5" height="4" fill="#ff0000"/>
<rect x="710" y="172" width="3" height="2" fill="#ff4500"/>
<rect x="719" y="165" width="1" height="24" fill="#32cd32"/>
<rect x="717" y="171" width="5" height="1" fill="#32cd32"/>
<rect x="727" y="154" width="1" height="24" fill="#ff0000"/>
<rect x="725" y="167" width="5" height="4" fill="#ff0000"/>
<rect x="726" y="168" width="3" height="2" fill="#ff4500"/>
<rect x="735" y="163" width="1" height="46" fill="#32cd32"/>
<rect x="733" y="167" width="5" height="19" fill="#32cd32"/>
<rect x="743" y="158" width="1" height="83" fill="#32cd32"/>
<rect x="741" y="185" width="5" height="26" fill="#32cd32"/>
<rect x="751" y="164" width="1" height="47" fill="#ff0000"/>
<rect x="749" y="192" width="5" height="19" fill="#ff0000"/>
<rect x="750" y="193" width="3" height="17" fill="#ff4500"/>
<rect x="759" y="172" width="1" height="22" fill="#ff0000"/>
<rect x="757" y="177" width="5" height="16" fill="#ff0000"/>
<rect x="758" y="178" width="3" height="14" fill="#ff4500"/>
<rect x="767" y="153" width="1" height="37" fill="#ff0000"/>
<rect x="765" y="174" width="5" height="16" fill="#ff0000"/>
<rect x="766" y="175" width="3" height="14" fill="#ff4500"/>
<rect x="775" y="130" width="1" height="57" fill="#ff0000"/>
<rect x="773" y="138" width="5" height="37" fill="#ff0000"/>
<rect x="774" y="139" width="3" height="35" fill="#ff4500"/>
<rect x="783" y="119" width="1" height="25" fill="#ff0000"/>
<rect x="781" y="133" width="5" height="6" fill="#ff0000"/>
<rect x="782" y="134" width="3" height="4" fill="#ff4500"/>
<rect x="791" y="89" width="1" height="51" fill="#ff0000"/>
<rect x="789" y="95" width="5" height="39" fill="#ff0000"/>
<rect x="790" y="96" width="3" height="37" fill="#ff4500"/>
<rect x="799" y="56" width="1" height="52" fill="#32cd32"/>
<rect x="797" y="95" width="5" height="6" fill="#32cd32"/>
<rect x="807" y="99" width="1" height="9" fill="#32cd32"/>
<rect x="805" y="100" width="5" height="5" fill="#32cd32"/>
<rect x="815" y="67" width="1" height="41" fill="#ff0000"/>
<rect x="813" y="69" width="5" height="31" fill="#ff0000"/>
<rect x="814" y="70" width="3" height="29" fill="#ff4500"/>
<rect x="823" y="60" width="1" height="54" fill="#32cd32"/>
<rect x="821" y="69" width="5" height="30" fill="#32cd32"/>
<rect x="831" y="93" width="1" height="38" fill="#32cd32"/>
<rect x="829" y="99" width="5" height="29" fill="#32cd32"/>
<rect x="839" y="124" width="1" height="24" fill="#32cd32"/>
<rect x="837" y="130" width="5" height="1" fill="#32cd32"/>
<rect x="847" y="123" width="1" height="40" fill="#32cd32"/>
<rect x="845" y="130" width="5" height="20" fill="#32cd32"/>
<rect x="855" y="141" width="1" height="11" fill="#32cd32"/>
<rect x="853" y="149" width="5" height="1" fill="#32cd32"/>
<rect x="863" y="150" width="1" height="26" fill="#32cd32"/>
<rect x="861" y="155" width="5" height="15" fill="#32cd32"/>
<rect x="871" y="154" width="1" height="33" fill="#32cd32"/>
<rect x="869" y="169" width="5" height="3" fill="#32cd32"/>
<rect x="879" y="163" width="1" height="40" fill="#32cd32"/>
<rect x="877" y="171" width="5" height="25" fill="#32cd32"/>
<rect x="887" y="193" width="1" height="79" fill="#32cd32"/>
<rect x="885" y="196" width="5" height="48" fill="#32cd32"/>
<rect x="895" y="200" width="1" height="53" fill="#ff0000"/>
<rect x="893" y="229" width="5" height="15" fill="#ff0000"/>
<rect x="894" y="230" width="3" height="13" fill="#ff4500"/>
<rect x="903" y="215" width="1" height="23" fill="#ff0000"/>
<rect x="901" y="225" width="5" height="5" fill="#ff0000"/>
<rect x="902" y="226" width="3" height="3" fill="#ff4500"/>
<rect x="911" y="220" width="1" height="33" fill="#32cd32"/>
<rect x="909" y="230" width="5" height="19" fill="#32cd32"/>
<rect x="919" y="239" width="1" height="19" fill="#ff0000"/>
<rect x="917" y="245" width="5" height="4" fill="#ff0000"/>
<rect x="918" y="246" width="3" height="2" fill="#ff4500"/>
</g>
<g shape-rendering="crispEdges">
<rect x="535" y="266" width="479" height="2" fill="#2484e0"/>
<rect x="738" y="128" width="274" height="2" fill="#ff2020"/>
<rect x="729" y="194" width="279" height="2" fill="#8cc600"/>
</g>
<g shape-rendering="crispEdges" fill="#000">
<rect x="6" y="30" width="1164" height="1"/>
<rect x="6" y="450" width="1164" height="1"/>
<rect x="6" y="452" width="1164" height="1"/>
<rect x="6" y="508" width="1164" height="1"/>
<rect x="6" y="510" width="1164" height="1"/>
<rect x="6" y="595" width="1164" height="1"/>
<rect x="6" y="30" width="1" height="566"/>
<rect x="1169" y="30" width="1" height="566"/>
<rect x="1170" y="51" width="2" height="1"/>
<rect x="1170" y="84" width="2" height="1"/>
<rect x="1170" y="117" width="2" height="1"/>
<rect x="1170" y="150" width="2" height="1"/>
<rect x="1170" y="183" width="2" height="1"/>
<rect x="1170" y="216" width="2" height="1"/>
<rect x="1170" y="249" width="2" height="1"/>
<rect x="1170" y="282" width="2" height="1"/>
<rect x="1170" y="315" width="2" height="1"/>
<rect x="1170" y="348" width="2" height="1"/>
<rect x="1170" y="381" width="2" height="1"/>
<rect x="1170" y="414" width="2" height="1"/>
<rect x="1170" y="447" width="2" height="1"/>
<rect x="1170" y="453" width="2" height="1"/>
<rect x="1170" y="484" width="2" height="1"/>
<rect x="1170" y="506" width="2" height="1"/>
<rect x="1170" y="511" width="2" height="1"/>
<rect x="1170" y="536" width="2" height="1"/>
<rect x="1170" y="570" width="2" height="1"/>
<rect x="1170" y="594" width="2" height="1"/>
<rect x="7" y="596" width="1" height="3"/>
<rect x="71" y="596" width="1" height="3"/>
<rect x="135" y="596" width="1" height="3"/>
<rect x="199" y="596" width="1" height="3"/>
<rect x="263" y="596" width="1" height="3"/>
<rect x="327" y="596" width="1" height="3"/>
<rect x="391" y="596" width="1" height="3"/>
<rect x="455" y="596" width="1" height="3"/>
<rect x="519" y="596" width="1" height="3"/>
<rect x="583" y="596" width="1" height="3"/>
<rect x="647" y="596" width="1" height="3"/>
<rect x="711" y="596" width="1" height="3"/>
<rect x="775" y="596" width="1" height="3"/>
<rect x="839" y="596" width="1" height="3"/>
<rect x="903" y="596" width="1" height="3"/>
<path d="M10 37H17V38H10ZM11 38H16V39H11ZM12 39H15V40H12ZM13 40H14V41H13Z"/>
<rect x="1171" y="240" width="41" height="11"/>
</g>
<text x="22.1" y="42" textLength="64.5" lengthAdjust="spacingAndGlyphs">USDCHF,Daily</text>
<text x="93.1" y="42" textLength="32.3" lengthAdjust="spacingAndGlyphs">0.99184</text>
<text x="129.4" y="42" textLength="32.2" lengthAdjust="spacingAndGlyphs">0.99283</text>
<text x="165.4" y="42" textLength="32" lengthAdjust="spacingAndGlyphs">0.99093</text>
<text x="201.2" y="42" textLength="32.5" lengthAdjust="spacingAndGlyphs">0.99215</text>
<text x="11.5" y="465" textLength="153.5" lengthAdjust="spacingAndGlyphs">MACD(12,26,9) -0.002259 -0.000509</text>
<text x="11.5" y="523" textLength="67.5" lengthAdjust="spacingAndGlyphs">RSI(14) 34.1613</text>
<text x="1175.3" y="55" textLength="32.5" lengthAdjust="spacingAndGlyphs">1.01280</text>
<text x="1175.3" y="88" textLength="32.5" lengthAdjust="spacingAndGlyphs">1.00930</text>
<text x="1175.3" y="121" textLength="32.5" lengthAdjust="spacingAndGlyphs">1.00580</text>
<text x="1175.3" y="154" textLength="32.5" lengthAdjust="spacingAndGlyphs">1.00230</text>
<text x="1175.3" y="187" textLength="32.5" lengthAdjust="spacingAndGlyphs">0.99880</text>
<text x="1175.3" y="220" textLength="32.5" lengthAdjust="spacingAndGlyphs">0.99530</text>
<text x="1175.3" y="253" textLength="32.5" lengthAdjust="spacingAndGlyphs">0.99170</text>
<text x="1175.3" y="286" textLength="32.5" lengthAdjust="spacingAndGlyphs">0.98820</text>
<text x="1175.3" y="319" textLength="32.5" lengthAdjust="spacingAndGlyphs">0.98470</text>
<text x="1175.3" y="352" textLength="32.5" lengthAdjust="spacingAndGlyphs">0.98120</text>
<text x="1175.3" y="385" textLength="32.5" lengthAdjust="spacingAndGlyphs">0.97770</text>
<text x="1175.3" y="418" textLength="32.5" lengthAdjust="spacingAndGlyphs">0.97420</text>
<text x="1175.3" y="451" textLength="32.5" lengthAdjust="spacingAndGlyphs">0.97070</text>
<rect x="1171" y="240" width="41" height="11" fill="#000" shape-rendering="crispEdges"/>
<text x="1175.3" y="249" textLength="32.5" lengthAdjust="spacingAndGlyphs" style="fill:#fff;stroke:#fff">0.99215</text>
<text x="1173.1" y="463" textLength="37.3" lengthAdjust="spacingAndGlyphs">0.004952</text>
<text x="1173.1" y="488.5" textLength="17.4" lengthAdjust="spacingAndGlyphs">0.00</text>
<text x="1173.1" y="505" textLength="40.5" lengthAdjust="spacingAndGlyphs">-0.003905</text>
<text x="1173.1" y="520.7" textLength="14.7" lengthAdjust="spacingAndGlyphs">100</text>
<text x="1173.1" y="540" textLength="9.3" lengthAdjust="spacingAndGlyphs">70</text>
<text x="1173.1" y="574" textLength="9.3" lengthAdjust="spacingAndGlyphs">30</text>
<text x="1173.5" y="591.7" textLength="4.5" lengthAdjust="spacingAndGlyphs">0</text>
<text x="6.2" y="608" textLength="54" lengthAdjust="spacingAndGlyphs">13 Nov 2018</text>
<text x="70.2" y="608" textLength="54" lengthAdjust="spacingAndGlyphs">22 Nov 2018</text>
<text x="135" y="608" textLength="46" lengthAdjust="spacingAndGlyphs">1 Dec 2018</text>
<text x="199" y="608" textLength="51" lengthAdjust="spacingAndGlyphs">11 Dec 2018</text>
<text x="262.5" y="608" textLength="51.7" lengthAdjust="spacingAndGlyphs">20 Dec 2018</text>
<text x="326.7" y="608" textLength="51" lengthAdjust="spacingAndGlyphs">29 Dec 2018</text>
<text x="390.3" y="608" textLength="45" lengthAdjust="spacingAndGlyphs">8 Jan 2019</text>
<text x="454.2" y="608" textLength="50" lengthAdjust="spacingAndGlyphs">17 Jan 2019</text>
<text x="518.3" y="608" textLength="49.5" lengthAdjust="spacingAndGlyphs">26 Jan 2019</text>
<text x="582.3" y="608" textLength="46" lengthAdjust="spacingAndGlyphs">5 Feb 2019</text>
<text x="646.7" y="608" textLength="50.7" lengthAdjust="spacingAndGlyphs">14 Feb 2019</text>
<text x="710.7" y="608" textLength="51" lengthAdjust="spacingAndGlyphs">23 Feb 2019</text>
<text x="774.5" y="608" textLength="46.3" lengthAdjust="spacingAndGlyphs">5 Mar 2019</text>
<text x="838.4" y="608" textLength="51" lengthAdjust="spacingAndGlyphs">14 Mar 2019</text>
<text x="902.4" y="608" textLength="51" lengthAdjust="spacingAndGlyphs">23 Mar 2019</text>
</svg>
</body></html>
